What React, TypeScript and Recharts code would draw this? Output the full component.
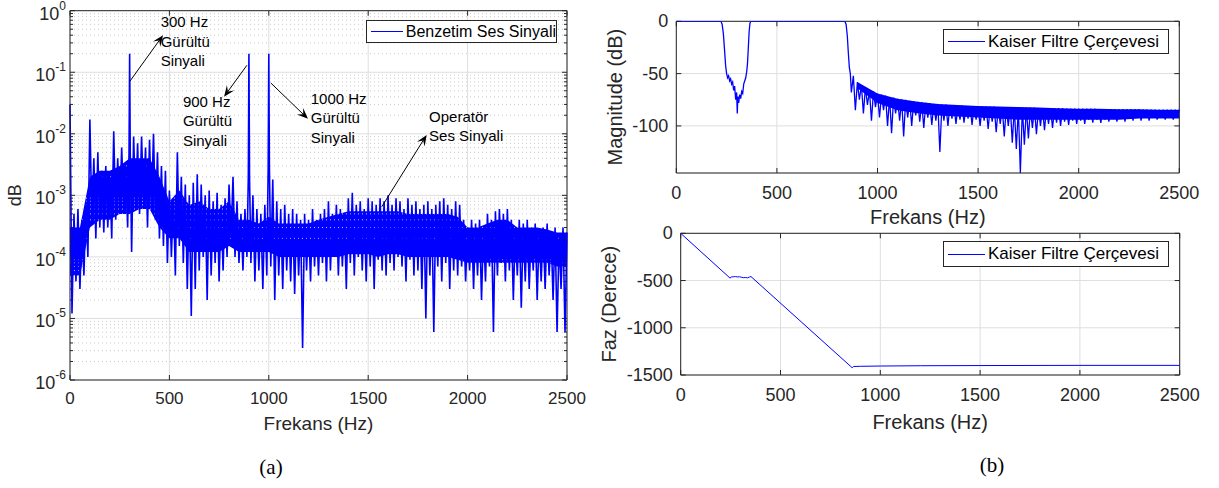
import React from 'react';
import {
  ComposedChart,
  LineChart,
  Line,
  Area,
  XAxis,
  YAxis,
  CartesianGrid,
  ReferenceLine,
  ReferenceDot,
} from 'recharts';

const FONT = 'Arial, "Liberation Sans", Helvetica, sans-serif';
const BLUE = '#0000ff';
const AXIS = '#262626';
const GRID = '#dedede';
const MINOR = '#cccccc';

// shared frequency axis
const freqTicks = [0, 500, 1000, 1500, 2000, 2500];

// (a) spectrum, log axis
const decadeTicks = [1e-6, 1e-5, 1e-4, 1e-3, 1e-2, 1e-1, 1];
const minorMantissas = [2, 3, 4, 5, 6, 7, 8, 9];

// local maxima of the spectrum every 20 Hz (0 .. 2500)
const spectrumPeaks = [
  3e-2, 5e-4, 6e-4, 4e-4, 8e-4, 1.7e-2, 4e-3, 5e-3, 2.5e-3, 3e-3,
  2e-3, 1.1e-2, 4e-3, 6e-3, 3e-3, 2e-1, 9e-3, 7e-3, 9e-3, 6e-3,
  8e-3, 1e-2, 5e-3, 3e-3, 2.5e-3, 1.2e-3, 9e-4, 5e-3, 2e-3, 1.5e-3,
  1e-3, 1.6e-3, 2.2e-3, 1.5e-3, 1e-3, 1.2e-3, 8e-4, 1.1e-3, 7e-4, 9e-4,
  1.5e-3, 2e-3, 8e-4, 5e-4, 6e-4, 2e-1, 1e-3, 6e-4, 5e-4, 7e-4,
  2e-1, 1.8e-3, 8e-4, 6e-4, 7e-4, 5e-4, 6e-4, 5e-4, 4e-4, 5e-4,
  4e-4, 6e-4, 4e-4, 5e-4, 6e-4, 8e-4, 5e-4, 7e-4, 6e-4, 5e-4,
  9e-4, 1.1e-3, 7e-4, 8e-4, 6e-4, 9e-4, 8e-4, 7e-4, 9e-4, 8e-4,
  1e-3, 7e-4, 9e-4, 8e-4, 6e-4, 9e-4, 7e-4, 8e-4, 6e-4, 7e-4,
  8e-4, 6e-4, 7e-4, 8e-4, 9e-4, 7e-4, 6e-4, 8e-4, 7e-4, 4e-4,
  3e-4, 4e-4, 3.5e-4, 4e-4, 3e-4, 5e-4, 4e-4, 5.5e-4, 6e-4, 5e-4,
  6e-4, 4e-4, 3e-4, 4e-4, 3.5e-4, 4e-4, 3e-4, 3.5e-4, 2.5e-4, 3e-4,
  3.5e-4, 2.5e-4, 3e-4, 2e-4, 3e-4, 2.5e-4,
];

// local minima in between (10 .. 2490)
const spectrumDips = [
  1.2e-5, 4e-5, 3e-5, 5e-5, 1e-4, 4e-4, 2e-4, 3e-4, 2.5e-4, 3e-4,
  2e-4, 4e-4, 5e-4, 6e-4, 3e-4, 1.2e-4, 7e-4, 5e-4, 8e-4, 3e-4,
  6e-4, 4e-4, 2e-4, 1.5e-4, 8e-5, 1e-4, 5e-5, 1.5e-4, 8e-5, 3e-5,
  1.1e-5, 3e-5, 6e-5, 1e-4, 2e-5, 5e-5, 8e-5, 4e-5, 6e-5, 1e-4,
  2e-4, 1e-4, 8e-5, 6e-5, 1e-4, 8e-5, 4e-5, 6e-5, 3e-5, 5e-5,
  7e-5, 2e-5, 5e-5, 3e-5, 6e-5, 4e-5, 2.5e-5, 5e-5, 3.3e-6, 6e-5,
  4e-5, 7e-5, 5e-5, 8e-5, 4e-5, 6e-5, 1e-4, 5e-5, 7e-5, 3e-5,
  8e-5, 5e-5, 1e-4, 6e-5, 4e-5, 7e-5, 3e-5, 9e-5, 6e-5, 5e-5,
  8e-5, 6e-5, 1e-4, 7e-5, 4e-5, 9e-5, 5e-5, 6e-5, 3e-5, 1e-5,
  5e-5, 6e-6, 7e-5, 4e-5, 8e-5, 3e-5, 6e-5, 5e-5, 7e-5, 4e-5,
  6e-5, 3e-5, 5e-5, 2e-5, 4e-5, 7e-5, 6e-6, 5e-5, 8e-5, 4e-5,
  6e-5, 2e-5, 5e-5, 1.5e-5, 4e-5, 3e-5, 6e-5, 2e-5, 4e-5, 3e-5,
  5e-5, 2e-5, 6e-6, 3e-5, 6e-6,
];

// solid body of the noise every 50 Hz (0 .. 2500): lower and upper edge
const spectrumCoreLo = [
  5e-5, 5e-5, 3e-4, 4e-4, 4e-4, 5e-4, 5e-4, 6e-4, 6e-4, 3e-4,
  2e-4, 2e-4, 1.2e-4, 1.2e-4, 1.2e-4, 1.2e-4, 1.5e-4, 1.2e-4, 1.2e-4, 1.2e-4,
  1.2e-4, 1e-4, 1e-4, 1e-4, 1e-4, 1e-4, 1e-4, 1e-4, 1.1e-4, 1.1e-4,
  1.1e-4, 1e-4, 1.1e-4, 1.1e-4, 1e-4, 1e-4, 1e-4, 1e-4, 1e-4, 9e-5,
  8e-5, 8e-5, 8e-5, 8e-5, 8e-5, 8e-5, 8e-5, 8e-5, 8e-5, 7e-5,
  7e-5,
];
const spectrumCoreHi = [
  3e-4, 3e-4, 2e-3, 2.5e-3, 2.5e-3, 3e-3, 4e-3, 4e-3, 4e-3, 2e-3,
  8e-4, 1.2e-3, 7e-4, 8e-4, 6e-4, 6e-4, 8e-4, 4e-4, 4e-4, 3.5e-4,
  4.5e-4, 3.5e-4, 3.5e-4, 3.5e-4, 3.5e-4, 4e-4, 4.5e-4, 5e-4, 5.5e-4, 5.5e-4,
  5.5e-4, 5.5e-4, 5.5e-4, 5.5e-4, 5e-4, 5e-4, 5e-4, 5e-4, 5e-4, 4.5e-4,
  3e-4, 3e-4, 3.5e-4, 4e-4, 4e-4, 3e-4, 3e-4, 3e-4, 2.8e-4, 2.5e-4,
  2.5e-4,
];

// narrow flanks of the three noise tones
const toneShoulders: [number, number][] = [
  [297, 5e-3], [303, 5e-3], [897, 2e-3], [903, 2e-3], [997, 3e-3], [1003, 3e-3],
];

// (b) magnitude response: pass band, notch and transition
const passFreq = [
  0, 222, 228, 234, 240, 245, 250, 255, 260, 265, 270, 275, 280, 285, 290, 295,
  300, 303, 306, 310, 315, 320, 325, 330, 335, 340, 345, 350, 354, 358, 362, 366,
  370, 838, 844, 850, 855, 860, 865,
];
const passDb = [
  0, 0, -3, -12, -28, -42, -50, -54, -52, -57, -55, -60, -58, -66, -62, -75,
  -68, -88, -72, -78, -70, -74, -67, -69, -60, -57, -54, -48, -40, -25, -10, -2,
  0, 0, -3, -14, -30, -44, -50,
];
// stop band ripple: upper edge every 20 Hz from 880, lower edge from 870
const stopPeaks = [
  -52, -58, -61, -63, -66, -67, -69, -70, -71, -72.5,
  -73, -74, -74.5, -75, -76, -76.5, -77, -77.5, -78, -78.5,
  -79, -79, -79.5, -79.5, -80, -80, -80.5, -80.5, -81, -81,
  -81, -81, -81.5, -81.5, -81.5, -81.5, -82, -82, -82, -82,
  -82, -82.5, -82.5, -82.5, -82.5, -82.5, -83, -83, -83, -83,
  -83, -83, -83, -83.5, -83.5, -83.5, -83.5, -83.5, -83.5, -83.5,
  -83.5, -84, -84, -84, -84, -84, -84, -84, -84, -84,
  -84, -84, -84.5, -84.5, -84.5, -84.5, -84.5, -84.5, -84.5, -84.5,
  -84.5, -84.5,
];
const stopDips = [
  -68, -85, -75, -88, -80, -95, -82, -92, -85, -100,
  -107, -88, -95, -110, -92, -100, -90, -96, -102, -92,
  -99, -95, -125, -95, -100, -93, -98, -94, -97, -93,
  -99, -94, -100, -95, -103, -96, -106, -98, -110, -100,
  -116, -122, -145, -118, -112, -102, -108, -100, -104, -98,
  -102, -97, -100, -96, -99, -95, -98, -95, -98, -94,
  -97, -94, -97, -94, -96, -93, -96, -93, -96, -93,
  -95, -92, -95, -92, -95, -92, -94, -92, -94, -92,
  -94, -92,
];
// solid ripple band every 100 Hz (900 .. 2500)
const stopCoreLo = [-64, -78, -85, -88, -90, -91, -92, -93, -94, -94, -94, -94, -94, -94, -93, -93, -93];
const stopCoreHi = [-58, -69, -74, -77, -79, -80, -81, -81.5, -82, -82.5, -83, -83.5, -83.5, -84, -84, -84.5, -84.5];
const magTicks = [-100, -50, 0];

// (b) phase response
const phaseFreq = [0, 247, 255, 265, 275, 285, 295, 305, 315, 325, 335, 345, 352, 859, 866, 900, 1000, 1200, 1500, 2000, 2500];
const phaseDeg = [0, -474, -462, -460, -458, -462, -460, -466, -470, -468, -472, -462, -458, -1423, -1410, -1408, -1405, -1402, -1400, -1398, -1398];
const phaseTicks = [-1500, -1000, -500, 0];

// annotations of plot (a), in data units
const notes = [
  { lines: ['300 Hz', 'Gürültü', 'Sinyali'], at: [456, 0.65], tail: [302, 0.072], head: [468, 0.4] },
  { lines: ['900 Hz', 'Gürültü', 'Sinyali'], at: [568, 0.033], tail: [890, 0.13], head: [775, 0.04] },
  { lines: ['1000 Hz', 'Gürültü', 'Sinyali'], at: [1211, 0.037], tail: [1010, 0.067], head: [1197, 0.0175] },
  { lines: ['Operatör', 'Ses Sinyali'], at: [1806, 0.0188], tail: [1568, 6.5e-4], head: [1794, 9.6e-3] },
];

type Row = { f: number; v: number; core?: [number, number] };

const spectrumData: Row[] = [
  ...spectrumPeaks.map((v, i) => ({ f: i * 20, v })),
  ...spectrumDips.map((v, i) => ({ f: i * 20 + 10, v })),
  ...toneShoulders.map(([f, v]) => ({ f, v })),
].sort((a, b) => a.f - b.f);
spectrumData.forEach((r) => {
  if (r.f % 50 === 0) {
    const k = r.f / 50;
    r.core = [spectrumCoreLo[k], spectrumCoreHi[k]];
  }
});

const magnitudeData: Row[] = [
  ...passFreq.map((f, i) => ({ f, v: passDb[i] })),
  ...stopPeaks.map((v, i) => ({ f: 880 + i * 20, v })),
  ...stopDips.map((v, i) => ({ f: 870 + i * 20, v })),
].sort((a, b) => a.f - b.f);
magnitudeData.forEach((r) => {
  if (r.f >= 900 && r.f % 100 === 0) {
    const k = (r.f - 900) / 100;
    r.core = [stopCoreLo[k], stopCoreHi[k]];
  }
});

const phaseData = phaseFreq.map((f, i) => ({ f, v: phaseDeg[i] }));

const minorTicks: number[] = [];
decadeTicks.slice(0, -1).forEach((d) => minorMantissas.forEach((m) => minorTicks.push(m * d)));

// ---- small render helpers ----
const XTick = (props: any) => (
  <text x={props.x} y={props.y} textAnchor="middle" dominantBaseline="central"
    fontFamily={FONT} fontSize={props.fs} fill={AXIS}>
    {props.payload.value}
  </text>
);

const YTick = (props: any) => (
  <text x={props.x} y={props.y} textAnchor="end" dominantBaseline="central"
    fontFamily={FONT} fontSize={props.fs} fill={AXIS}>
    {props.payload.value}
  </text>
);

const PowTick = (props: any) => {
  const exp = Math.round(Math.log10(props.payload.value));
  return (
    <text x={props.x} y={props.y + 9} textAnchor="end" fontFamily={FONT} fontSize={18} fill={AXIS}>
      10<tspan fontSize={12} dy={-10}>{exp}</tspan>
    </text>
  );
};

const xLabel = (text: string, dy: number, fs: number) => (props: any) => {
  const vb = props.viewBox || {};
  return (
    <text x={vb.x + vb.width / 2} y={vb.y + dy} textAnchor="middle" dominantBaseline="central"
      fontFamily={FONT} fontSize={fs} fill={AXIS}>
      {text}
    </text>
  );
};

const yLabel = (text: string, dx: number, fs: number) => (props: any) => {
  const vb = props.viewBox || {};
  const cx = vb.x + dx;
  const cy = vb.y + vb.height / 2;
  return (
    <text x={cx} y={cy} transform={`rotate(-90 ${cx} ${cy})`} textAnchor="middle" dominantBaseline="central"
      fontFamily={FONT} fontSize={fs} fill={AXIS}>
      {text}
    </text>
  );
};

function xTickMarks(values: number[], len: number) {
  return values.map((v) => (
    <ReferenceLine key={'xt' + v} x={v} ifOverflow="visible" shape={(p: any) => {
      const top = Math.min(p.y1, p.y2);
      const bot = Math.max(p.y1, p.y2);
      return (
        <g>
          <line x1={p.x1} y1={bot} x2={p.x1} y2={bot - len} stroke={AXIS} />
          <line x1={p.x1} y1={top} x2={p.x1} y2={top + len} stroke={AXIS} />
        </g>
      );
    }} />
  ));
}

function yTickMarks(values: number[], len: number, dotted: boolean) {
  return values.map((v) => (
    <ReferenceLine key={'yt' + v} y={v} ifOverflow="visible" shape={(p: any) => {
      const l = Math.min(p.x1, p.x2);
      const r = Math.max(p.x1, p.x2);
      return (
        <g>
          {dotted && <line x1={l} y1={p.y1} x2={r} y2={p.y1} stroke={MINOR} strokeDasharray="1 3" />}
          <line x1={l} y1={p.y1} x2={l + len} y2={p.y1} stroke={AXIS} />
          <line x1={r - len} y1={p.y1} x2={r} y2={p.y1} stroke={AXIS} />
        </g>
      );
    }} />
  ));
}

const arrowShape = (p: any) => {
  const dx = p.x2 - p.x1;
  const dy = p.y2 - p.y1;
  const len = Math.hypot(dx, dy) || 1;
  const ux = dx / len;
  const uy = dy / len;
  const nx = -uy;
  const ny = ux;
  const hl = 11;
  const hw = 4.5;
  const bx = p.x2 - ux * hl;
  const by = p.y2 - uy * hl;
  const mx = p.x2 - ux * hl * 0.6;
  const my = p.y2 - uy * hl * 0.6;
  const pts = `${p.x2},${p.y2} ${bx + nx * hw},${by + ny * hw} ${mx},${my} ${bx - nx * hw},${by - ny * hw}`;
  return (
    <g>
      <line x1={p.x1} y1={p.y1} x2={mx} y2={my} stroke="#000" strokeWidth={1} />
      <polygon points={pts} fill="#000" />
    </g>
  );
};

const noteShape = (lines: string[]) => (p: any) => (
  <text x={p.cx} y={p.cy + 5} fontFamily={FONT} fontSize={15} fill="#000">
    {lines.map((l, i) => (
      <tspan key={i} x={p.cx} dy={i === 0 ? 0 : 19.5}>{l}</tspan>
    ))}
  </text>
);

function LegendBox(props: { left: number; top: number; width: number; height: number; label: string; fs: number; lineW: number }) {
  return (
    <div style={{
      position: 'absolute', left: props.left, top: props.top, width: props.width, height: props.height,
      boxSizing: 'border-box', border: `1px solid ${AXIS}`, background: '#fff',
      display: 'flex', alignItems: 'center', fontFamily: FONT, fontSize: props.fs, color: '#000', whiteSpace: 'nowrap',
    }}>
      <span style={{ display: 'inline-block', width: props.lineW, borderTop: `1px solid ${BLUE}`, margin: '0 3px 0 4px' }} />
      <span>{props.label}</span>
    </div>
  );
}

export default function App() {
  return (
    <div style={{ position: 'absolute', left: 0, top: 0, width: 1219, height: 488, background: '#fff' }}>
      {/* (a) spectrum */}
      <div style={{ position: 'absolute', left: 0, top: 0 }}>
        <ComposedChart width={600} height={440} data={spectrumData} margin={{ top: 10.7, right: 33, bottom: 0, left: 0 }}>
          <CartesianGrid stroke={GRID} />
          <XAxis dataKey="f" type="number" domain={[0, 2500]} ticks={freqTicks} height={60}
            stroke={AXIS} tickSize={0} tickMargin={18} tick={<XTick fs={17} />}
            label={xLabel('Frekans (Hz)', 43, 19)} />
          <YAxis type="number" scale="log" domain={[1e-6, 1]} ticks={decadeTicks} allowDataOverflow width={70}
            stroke={AXIS} tickSize={0} tickMargin={4} tick={<PowTick />}
            label={yLabel('dB', 15, 18)} />
          {yTickMarks(minorTicks, 3, true)}
          {xTickMarks(freqTicks, 5)}
          {yTickMarks(decadeTicks, 5, false)}
          <ReferenceLine y={1} stroke={AXIS} ifOverflow="visible" />
          <ReferenceLine x={2500} stroke={AXIS} ifOverflow="visible" />
          <Area type="linear" dataKey="core" stroke="none" fill={BLUE} fillOpacity={1} connectNulls
            dot={false} activeDot={false} isAnimationActive={false} />
          <Line type="linear" dataKey="v" stroke={BLUE} strokeWidth={1.6} dot={false} activeDot={false} isAnimationActive={false} />
          {notes.map((n, i) => (
            <ReferenceLine key={'ar' + i} ifOverflow="visible"
              segment={[{ x: n.tail[0], y: n.tail[1] }, { x: n.head[0], y: n.head[1] }]}
              shape={arrowShape} />
          ))}
          {notes.map((n, i) => (
            <ReferenceDot key={'nt' + i} x={n.at[0]} y={n.at[1]} r={0} ifOverflow="visible" shape={noteShape(n.lines)} />
          ))}
        </ComposedChart>
      </div>

      {/* (b) magnitude */}
      <div style={{ position: 'absolute', left: 600, top: 0 }}>
        <ComposedChart width={600} height={233} data={magnitudeData} margin={{ top: 21.3, right: 20.7, bottom: 0, left: 0 }}>
          <CartesianGrid stroke={GRID} />
          <XAxis dataKey="f" type="number" domain={[0, 2500]} ticks={freqTicks} height={60}
            stroke={AXIS} tickSize={0} tickMargin={20} tick={<XTick fs={18} />}
            label={xLabel('Frekans (Hz)', 44, 20)} />
          <YAxis type="number" domain={[-145, 0]} ticks={magTicks} allowDataOverflow width={76.3}
            stroke={AXIS} tickSize={0} tickMargin={8} tick={<YTick fs={18} />}
            label={yLabel('Magnitude (dB)', 15, 20)} />
          {xTickMarks(freqTicks, 5)}
          {yTickMarks(magTicks, 5, false)}
          <ReferenceLine y={0} stroke={AXIS} ifOverflow="visible" />
          <ReferenceLine x={2500} stroke={AXIS} ifOverflow="visible" />
          <Area type="linear" dataKey="core" stroke="none" fill={BLUE} fillOpacity={1} connectNulls
            dot={false} activeDot={false} isAnimationActive={false} />
          <Line type="linear" dataKey="v" stroke={BLUE} strokeWidth={1.3} dot={false} activeDot={false} isAnimationActive={false} />
        </ComposedChart>
      </div>

      {/* (b) phase */}
      <div style={{ position: 'absolute', left: 590, top: 200 }}>
        <LineChart width={610} height={235} data={phaseData} margin={{ top: 33.3, right: 20.3, bottom: 0, left: 0 }}>
          <CartesianGrid stroke={GRID} />
          <XAxis dataKey="f" type="number" domain={[0, 2500]} ticks={freqTicks} height={60}
            stroke={AXIS} tickSize={0} tickMargin={20} tick={<XTick fs={18} />}
            label={xLabel('Frekans (Hz)', 47, 20)} />
          <YAxis type="number" domain={[-1500, 0]} ticks={phaseTicks} allowDataOverflow width={90.7}
            stroke={AXIS} tickSize={0} tickMargin={8} tick={<YTick fs={18} />}
            label={yLabel('Faz (Derece)', 19, 20)} />
          {xTickMarks(freqTicks, 5)}
          {yTickMarks(phaseTicks, 5, false)}
          <ReferenceLine y={0} stroke={AXIS} ifOverflow="visible" />
          <ReferenceLine x={2500} stroke={AXIS} ifOverflow="visible" />
          <Line type="linear" dataKey="v" stroke={BLUE} strokeWidth={1} dot={false} activeDot={false} isAnimationActive={false} />
        </LineChart>
      </div>

      <LegendBox left={366} top={20} width={191} height={23} label="Benzetim Ses Sinyali" fs={16} lineW={32} />
      <LegendBox left={943} top={29} width={226} height={25} label="Kaiser Filtre Çerçevesi" fs={17} lineW={37} />
      <LegendBox left={943} top={241} width={226} height={26} label="Kaiser Filtre Çerçevesi" fs={17} lineW={37} />

      <div style={{ position: 'absolute', left: 231, top: 455, width: 80, textAlign: 'center', fontFamily: '"Liberation Serif", "Times New Roman", serif', fontSize: 21 }}>(a)</div>
      <div style={{ position: 'absolute', left: 952, top: 453, width: 80, textAlign: 'center', fontFamily: '"Liberation Serif", "Times New Roman", serif', fontSize: 21 }}>(b)</div>
    </div>
  );
}
